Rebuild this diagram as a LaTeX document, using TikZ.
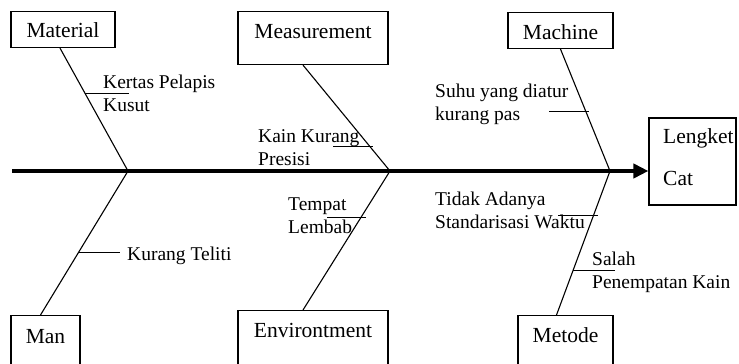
\documentclass[tikz,border=0pt]{standalone}
\usepackage{fontspec}
\setmainfont{Liberation Serif}
\usepackage{tikz}
\usetikzlibrary{arrows.meta, calc, positioning}

\begin{document}
\begin{tikzpicture}[x=1pt, y=-1pt,
    kotak/.style={draw, line width=1.1pt, inner sep=0pt, anchor=north, font=\fontsize{21.5}{25}\selectfont, text height=27pt},
    sebab/.style={inner sep=0pt, anchor=base west, align=left, font=\fontsize{19.5}{23}\selectfont},
    tulang/.style={line width=1.1pt},
    ranting/.style={line width=1pt}]

            % Batas gambar
            \clip (0,0) rectangle (739,364);

            % Kotak kategori
            \node[kotak, minimum width=104pt, text height=26pt, text depth=10pt] (material) at (63,11) {Material};
            \node[kotak, minimum width=150pt, text depth=26pt] (measurement) at (313,11) {Measurement};
            \node[kotak, minimum width=105pt, text depth=9pt] (machine) at (560.5,12) {Machine};
            \node[kotak, minimum width=69pt, text height=28pt, text depth=40pt] (man) at (45.5,315) {Man};
            \node[kotak, minimum width=150pt, text depth=45pt] (environtment) at (313,310) {Environtment};
            \node[kotak, minimum width=95pt, text depth=40pt] (metode) at (565.5,315) {Metode};

            % Kotak akibat
            \node[draw, line width=1.1pt, minimum width=87pt, minimum height=87pt, inner sep=0pt] (lengket) at (692.5,161.5) {};
            \node[inner sep=0pt, anchor=base west, align=left, font=\fontsize{21.5}{25}\selectfont] (lengkettext) at (663,185) {Lengket\\[17pt]Cat};

            % Tulang utama
            \coordinate (ekor) at (12,171);
            \draw[line width=4pt, -{Triangle[length=15pt,width=14pt]}] (ekor) -- (ekor -| lengket.west);

            % Titik temu
            \coordinate (j1) at (128,171);
            \coordinate (j2) at (390,171);
            \coordinate (j3) at (610,171);

            % Tulang kategori
            \draw[tulang] ([xshift=-3pt]material.south) -- (j1) coordinate[pos=.37] (r1);
            \draw[tulang] ([xshift=-10pt]measurement.south) -- (j2) coordinate[pos=.766] (r2);
            \draw[tulang] (machine.south) -- (j3) coordinate[pos=.512] (r3);
            \draw[tulang] (j1) -- ([xshift=-5pt]man.north) coordinate[pos=.569] (r4);
            \draw[tulang] (j2) -- ([xshift=-10pt]environtment.north) coordinate[pos=.331] (r5);
            \draw[tulang] (j3) -- ([xshift=-9pt]metode.north) coordinate[pos=.306] (r6) coordinate[pos=.694] (r7);

            % Ranting sebab
            \draw[ranting] (r1) -- ++(44,0);
            \draw[ranting] ([xshift=3pt]r2) -- ++(-40,0);
            \draw[ranting] ([xshift=3pt]r3) -- ++(-40,0);
            \draw[ranting] (r4) -- ++(42,0);
            \draw[ranting] ([xshift=5pt]r5) -- ++(-39,0);
            \draw[ranting] ([xshift=4pt]r6) -- ++(-40,0);
            \draw[ranting] (r7) -- ++(42,0);

            % Teks sebab
            \node[sebab] (kertas) at (103,111) {Kertas Pelapis\\Kusut};
            \node[sebab] (kain) at (258,165) {Kain Kurang\\Presisi};
            \node[sebab] (suhu) at (435,120) {Suhu yang diatur\\kurang pas};
            \node[sebab] (teliti) at (127,260) {Kurang Teliti};
            \node[sebab] (tempat) at (288,233) {Tempat\\Lembab};
            \node[sebab] (waktu) at (435,228) {Tidak Adanya\\Standarisasi Waktu};
            \node[sebab] (salah) at (592,288) {Salah\\Penempatan Kain};

            \end{tikzpicture}
\end{document}
